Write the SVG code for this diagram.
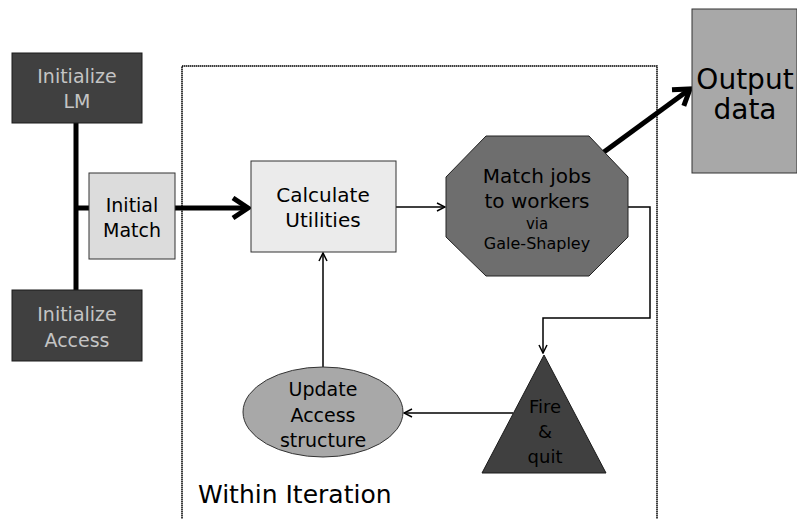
<svg xmlns="http://www.w3.org/2000/svg" width="797" height="519" viewBox="0 0 797 519">
<defs>
<marker id="thin" viewBox="0 0 10 10" refX="9" refY="5" markerWidth="10" markerHeight="10" markerUnits="userSpaceOnUse" orient="auto">
<path d="M1,1 L9,5 L1,9" fill="none" stroke="#000" stroke-width="1.5"/>
</marker>
<marker id="thick" viewBox="0 0 10 10" refX="8" refY="5" markerWidth="5" markerHeight="5" orient="auto">
<path d="M2,1 L8,5 L2,9" fill="none" stroke="#000" stroke-width="2" stroke-linejoin="miter"/>
</marker>
</defs>
<style>
text{font-family:"DejaVu Sans","Liberation Sans",sans-serif;text-anchor:middle;fill:#000}
.dark{fill:#404040;stroke:#1a1a1a;stroke-width:1}
.dt{fill:#c4c4c4;font-size:19px}
.t19{font-size:19px}
.thin{fill:none;stroke:#000;stroke-width:1.5}
.fat{fill:none;stroke:#000;stroke-width:5}
</style>
<rect x="182" y="66" width="475" height="470" fill="none" stroke="#000" stroke-width="1.5" stroke-dasharray="1.5 0.5"/>
<text x="198" y="503" style="font-size:25px;text-anchor:start">Within Iteration</text>
<g id="connectors">
<line class="fat" x1="76" y1="122" x2="76" y2="290"/>
<line class="fat" x1="76" y1="208" x2="89" y2="208"/>
<line class="fat" x1="175" y1="208" x2="248" y2="208" marker-end="url(#thick)"/>
<line class="thin" x1="396" y1="207" x2="445" y2="207" marker-end="url(#thin)"/>
<line class="fat" x1="593" y1="160" x2="690" y2="89" marker-end="url(#thick)"/>
<polyline class="thin" points="628,207 650,207 650,318 543,318 543,353" marker-end="url(#thin)"/>
<line class="thin" x1="513" y1="413" x2="404" y2="413" marker-end="url(#thin)"/>
<line class="thin" x1="323" y1="367" x2="323" y2="253" marker-end="url(#thin)"/>
</g>
<g id="init-lm">
<rect class="dark" x="12" y="53" width="130" height="70"/>
<text class="dt" x="77" y="83">Initialize</text>
<text class="dt" x="77" y="108">LM</text>
</g>
<g id="init-access">
<rect class="dark" x="12" y="290" width="130" height="71"/>
<text class="dt" x="77" y="321">Initialize</text>
<text class="dt" x="77" y="347">Access</text>
</g>
<g id="initial-match">
<rect x="89" y="173" width="86" height="86" fill="#dcdcdc" stroke="#333" stroke-width="1"/>
<text class="t19" x="132" y="212">Initial</text>
<text class="t19" x="132" y="237">Match</text>
</g>
<g id="calc">
<rect x="251" y="161" width="145" height="91" fill="#ebebeb" stroke="#333" stroke-width="1"/>
<text x="323" y="202" style="font-size:20px">Calculate</text>
<text x="323" y="227" style="font-size:20px">Utilities</text>
</g>
<g id="match">
<polygon points="486,136 589,136 628,177 628,237 589,276 486,276 446,237 446,177" fill="#6e6e6e" stroke="#222" stroke-width="1"/>
<text x="537" y="183" style="font-size:20px">Match jobs</text>
<text x="537" y="208" style="font-size:20px">to workers</text>
<text x="537" y="229" style="font-size:15px">via</text>
<text x="537" y="249" style="font-size:16px">Gale-Shapley</text>
</g>
<g id="output">
<rect x="692" y="9" width="105" height="164" fill="#a8a8a8" stroke="#333" stroke-width="1"/>
<text x="745" y="89" style="font-size:28px">Output</text>
<text x="745" y="119" style="font-size:28px">data</text>
</g>
<g id="fire">
<polygon points="544,355 606,473 482,473" fill="#404040" stroke="#1a1a1a" stroke-width="1"/>
<text x="545" y="413" style="font-size:18px">Fire</text>
<text x="545" y="438" style="font-size:18px">&amp;</text>
<text x="545" y="463" style="font-size:18px">quit</text>
</g>
<g id="update">
<ellipse cx="323" cy="412" rx="80" ry="45" fill="#a8a8a8" stroke="#333" stroke-width="1"/>
<text x="323" y="396" style="font-size:19px">Update</text>
<text x="323" y="422" style="font-size:19px">Access</text>
<text x="323" y="447" style="font-size:19px">structure</text>
</g>
</svg>
